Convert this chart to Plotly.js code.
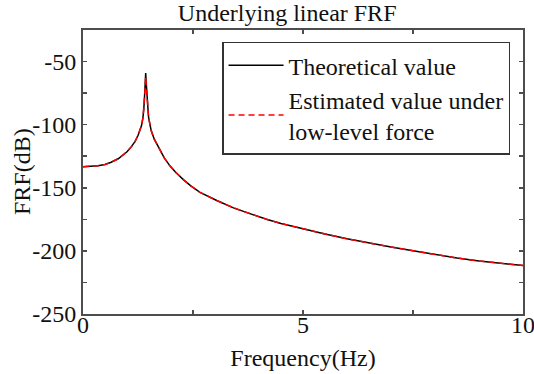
<!DOCTYPE html>
<html>
<head>
<meta charset="utf-8">
<script src="https://cdn.plot.ly/plotly-3.0.1.min.js"></script>
<style>html,body{margin:0;padding:0;background:#fff;}#chart{width:534px;height:374px;}</style>
</head>
<body>
<div id="chart"></div>
<script>
const freqHz = [0, 0.2, 0.34, 0.5, 0.64, 0.8, 0.87, 1.0, 1.1, 1.18, 1.25, 1.3, 1.33, 1.36, 1.38, 1.4, 1.415, 1.425, 1.435, 1.45, 1.47, 1.49, 1.52, 1.55, 1.62, 1.7, 1.75, 1.85, 1.98, 2.1, 2.28, 2.45, 2.66, 2.85, 3.04, 3.42, 3.8, 4.17, 4.5, 5.0, 5.5, 6.0, 6.5, 7.0, 7.5, 8.0, 8.5, 9.0, 9.5, 10];
const theoreticalDb = [-133.3, -133.0, -132.6, -131.5, -129.8, -127.0, -125.3, -121.5, -117.4, -113.5, -108.6, -104.0, -100.7, -95.0, -88.8, -77.0, -66.0, -59.0, -66.0, -76.0, -87.0, -94.0, -99.5, -104.7, -111.5, -116.6, -120.5, -126.5, -132.8, -137.5, -143.5, -148.5, -153.6, -157.0, -160.1, -165.9, -170.7, -175.0, -178.3, -182.6, -186.6, -190.4, -193.9, -197.0, -199.8, -203.0, -205.7, -208.0, -210.0, -211.6];
const estimatedDb = [-133.3, -133.0, -132.6, -131.5, -129.8, -127.0, -125.3, -121.5, -117.4, -113.5, -108.6, -104.0, -100.7, -95.0, -88.8, -77.5, -68.0, -62.0, -68.0, -76.5, -87.0, -94.0, -99.5, -104.7, -111.5, -116.6, -120.5, -126.5, -132.8, -137.5, -143.5, -148.5, -153.6, -157.0, -160.1, -165.9, -170.7, -175.0, -178.3, -182.6, -186.6, -190.4, -193.9, -197.0, -199.8, -203.0, -205.7, -208.0, -210.0, -211.6];
const xTickVals = [0, 2.5, 5, 7.5, 10];
const xTickText = ['0', '', '5', '', '10'];
const yTickVals = [-250, -225, -200, -175, -150, -125, -100, -75, -50];
const yTickText = ['-250', '', '-200', '', '-150', '', '-100', '', '-50'];

const FONT = 'Liberation Serif, Times New Roman, serif';
const AX = '#4d4d4d';
const TXT = '#111111';

const traces = [
  {x: freqHz, y: theoreticalDb, type: 'scatter', mode: 'lines', name: 'Theoretical value',
   line: {color: '#000000', width: 1.5}},
  {x: freqHz, y: estimatedDb, type: 'scatter', mode: 'lines', name: 'Estimated value under<br>low-level force',
   line: {color: '#ff0000', width: 1.5, dash: '6px,4px'}}
];

const layout = {
  width: 534, height: 374,
  margin: {l: 83, r: 11, t: 30, b: 60},
  paper_bgcolor: '#ffffff', plot_bgcolor: '#ffffff',
  font: {family: FONT, size: 24, color: TXT},
  showlegend: true,
  title: {text: 'Underlying linear FRF', font: {family: FONT, size: 24, color: TXT},
          x: 0.464, xref: 'paper', xanchor: 'center', y: 1 - 13 / 374, yref: 'container', yanchor: 'middle'},
  xaxis: {range: [0, 10], tickvals: xTickVals, ticktext: xTickText, ticks: 'inside', ticklen: 4, tickwidth: 1.5,
          tickcolor: AX, showline: true, linecolor: AX, linewidth: 2, mirror: 'ticks', showgrid: false, zeroline: false,
          ticklabeloverflow: 'allow', ticklabelstandoff: -12,
          tickfont: {family: FONT, size: 24, color: TXT},
          title: {text: 'Frequency(Hz)', font: {family: FONT, size: 24, color: TXT}, standoff: 12}},
  yaxis: {range: [-250, -25], tickvals: yTickVals, ticktext: yTickText, ticks: 'inside', ticklen: 4, tickwidth: 1.5,
          tickcolor: AX, showline: true, linecolor: AX, linewidth: 2, mirror: 'ticks', showgrid: false, zeroline: false,
          tickfont: {family: FONT, size: 24, color: TXT}},
  annotations: [
    {text: 'FRF(dB)', textangle: -90, xref: 'paper', yref: 'paper', x: (22 - 83) / 440, y: 0.5,
     xanchor: 'center', yanchor: 'middle', showarrow: false, font: {family: FONT, size: 24, color: TXT}}
  ],
  legend: {x: 0.316, y: 0.959, xanchor: 'left', yanchor: 'top', bgcolor: '#ffffff', bordercolor: '#333333',
           borderwidth: 1.5, itemwidth: 55, font: {family: FONT, size: 24, color: TXT}, tracegroupgap: 0}
};

Plotly.newPlot('chart', traces, layout, {displayModeBar: false, staticPlot: true});
</script>
</body>
</html>
